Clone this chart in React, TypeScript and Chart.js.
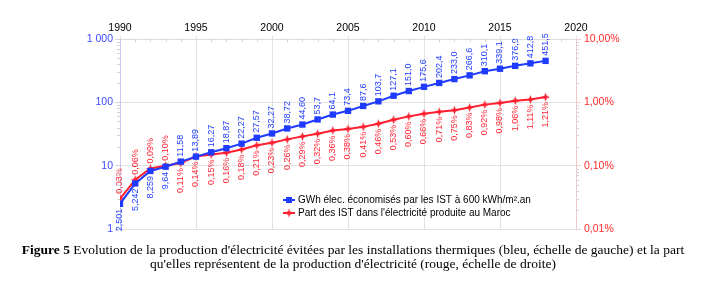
import React, { useEffect, useRef } from "react";
import { Chart, registerables } from "chart.js";

Chart.register(...registerables);

// Years covered by the series
const years = [
  1990, 1991, 1992, 1993, 1994, 1995, 1996, 1997, 1998, 1999,
  2000, 2001, 2002, 2003, 2004, 2005, 2006, 2007, 2008, 2009,
  2010, 2011, 2012, 2013, 2014, 2015, 2016, 2017, 2018,
];

// GWh of electricity saved by solar water heaters (left, log scale)
const gwhSaved = [
  2.501, 5.242, 8.259, 9.64, 11.58, 13.89, 16.27, 18.87, 22.27, 27.57,
  32.27, 38.72, 44.6, 53.7, 64.1, 73.4, 87.6, 103.7, 127.1, 151.0,
  175.6, 202.4, 233.0, 266.6, 310.1, 339.1, 376.9, 412.8, 451.5,
];
// Number of decimals shown in each GWh label
const gwhDecimals = [
  3, 3, 3, 2, 2, 2, 2, 2, 2, 2,
  2, 2, 2, 1, 1, 1, 1, 1, 1, 1,
  1, 1, 1, 1, 1, 1, 1, 1, 1,
];

// Share of national electricity production, in percent (right, log scale)
const sharePct = [
  0.03, 0.06, 0.09, 0.1, 0.11, 0.14, 0.15, 0.16, 0.18, 0.21,
  0.23, 0.26, 0.29, 0.32, 0.36, 0.38, 0.41, 0.46, 0.53, 0.6,
  0.66, 0.71, 0.75, 0.83, 0.92, 0.98, 1.06, 1.11, 1.21,
];

const yearTicks = [1990, 1995, 2000, 2005, 2010, 2015, 2020];
const gwhTicks = [1, 10, 100, 1000];
const pctTicks = [0.01, 0.1, 1, 10];

const seriesNames = [
  "GWh élec. économisés par les IST à 600 kWh/m².an",
  "Part des IST dans l'électricité produite au Maroc",
];

const BLUE = "#1f3bff";
const RED = "#ff1f2f";
const FONT = '"Liberation Sans", Arial, sans-serif';

const fmtGwh = (i: number) => gwhSaved[i].toFixed(gwhDecimals[i]).replace(".", ",");
const fmtPct = (v: number) => v.toFixed(2).replace(".", ",") + "%";

function makeStar(color: string, r: number) {
  const c = document.createElement("canvas");
  const size = Math.ceil(r * 2) + 2;
  c.width = size;
  c.height = size;
  const g = c.getContext("2d")!;
  const cx = size / 2;
  const cy = size / 2;
  const inner = r * 0.38;
  g.beginPath();
  for (let k = 0; k < 8; k++) {
    const a = (Math.PI / 4) * k - Math.PI / 2;
    const rr = k % 2 === 0 ? r : inner;
    const x = cx + rr * Math.cos(a);
    const y = cy + rr * Math.sin(a);
    if (k === 0) g.moveTo(x, y);
    else g.lineTo(x, y);
  }
  g.closePath();
  g.fillStyle = color;
  g.fill();
  return c;
}

// Small minor tick marks on the three axes
const minorTicks = {
  id: "minorTicks",
  afterDraw(chart: any) {
    const { ctx, chartArea } = chart;
    const y = chart.scales.y;
    const x = chart.scales.x;
    ctx.save();
    ctx.strokeStyle = "#d4d4d4";
    ctx.lineWidth = 1;
    ctx.beginPath();
    for (const d of [1, 10, 100]) {
      for (let m = 2; m <= 9; m++) {
        const py = Math.round(y.getPixelForValue(d * m)) + 0.5;
        ctx.moveTo(chartArea.left - 3, py);
        ctx.lineTo(chartArea.left, py);
        ctx.moveTo(chartArea.right, py);
        ctx.lineTo(chartArea.right + 3, py);
      }
    }
    for (let yr = 1991; yr < 2020; yr++) {
      if (yr % 5 === 0) continue;
      const px = Math.round(x.getPixelForValue(yr)) + 0.5;
      ctx.moveTo(px, chartArea.top);
      ctx.lineTo(px, chartArea.top + 3);
    }
    ctx.stroke();
    ctx.restore();
  },
};

// Vertical value labels next to every point
const pointLabels = {
  id: "pointLabels",
  afterDatasetsDraw(chart: any) {
    const ctx = chart.ctx;
    chart.data.datasets.forEach((_ds: any, di: number) => {
      const meta = chart.getDatasetMeta(di);
      meta.data.forEach((pt: any, i: number) => {
        const above = di === 0 ? i >= 4 : i < 4;
        const text = di === 0 ? fmtGwh(i) : fmtPct(sharePct[i]);
        ctx.save();
        ctx.translate(pt.x, pt.y + (above ? -5 : 5));
        ctx.rotate(-Math.PI / 2);
        ctx.textAlign = above ? "left" : "right";
        ctx.textBaseline = "middle";
        ctx.fillStyle = di === 0 ? BLUE : RED;
        ctx.font = "9px " + FONT;
        ctx.fillText(text, 0, 0);
        ctx.restore();
      });
    });
  },
};

// Legend drawn inside the plot, lower right
const innerLegend = {
  id: "innerLegend",
  afterDraw(chart: any) {
    const { ctx, chartArea } = chart;
    const x0 = chartArea.left + 163;
    const y0 = chartArea.bottom - 29;
    ctx.save();
    chart.data.datasets.forEach((ds: any, di: number) => {
      const y = y0 + di * 13;
      ctx.strokeStyle = ds.borderColor;
      ctx.lineWidth = 2;
      ctx.beginPath();
      ctx.moveTo(x0, y);
      ctx.lineTo(x0 + 12, y);
      ctx.stroke();
      if (di === 0) {
        ctx.fillStyle = ds.borderColor;
        ctx.fillRect(x0 + 3, y - 3, 6, 6);
      } else {
        const s = ds.pointStyle as HTMLCanvasElement;
        ctx.drawImage(s, x0 + 6 - s.width / 2, y - s.height / 2);
      }
      ctx.fillStyle = "#000";
      ctx.font = "10px " + FONT;
      ctx.textAlign = "left";
      ctx.textBaseline = "middle";
      ctx.fillText(ds.label, x0 + 15, y + 0.5);
    });
    ctx.restore();
  },
};

export default function App() {
  const canvasRef = useRef<HTMLCanvasElement | null>(null);

  useEffect(() => {
    document.body.style.margin = "0";
    const canvas = canvasRef.current!;
    const star = makeStar(RED, 4.5);
    const chart = new Chart(canvas, {
      type: "line",
      data: {
        labels: years,
        datasets: [
          {
            label: seriesNames[0],
            data: years.map((yr, i) => ({ x: yr, y: gwhSaved[i] })),
            borderColor: BLUE,
            backgroundColor: BLUE,
            borderWidth: 2,
            pointStyle: "rect",
            pointRadius: 4.5,
            pointBorderWidth: 0,
            yAxisID: "y",
          },
          {
            label: seriesNames[1],
            data: years.map((yr, i) => ({ x: yr, y: sharePct[i] })),
            borderColor: RED,
            backgroundColor: RED,
            borderWidth: 2,
            pointStyle: star as any,
            pointRadius: 4.5,
            yAxisID: "y1",
          },
        ],
      },
      options: {
        responsive: false,
        animation: false,
        layout: { padding: { left: 0, right: 0, top: 0, bottom: 63 } },
        plugins: {
          legend: { display: false },
          tooltip: { enabled: false },
        },
        scales: {
          x: {
            type: "linear",
            position: "top",
            min: 1990,
            max: 2020,
            afterBuildTicks: (s: any) => {
              s.ticks = yearTicks.map((v) => ({ value: v }));
            },
            afterFit: (s: any) => {
              s.height = 39;
            },
            ticks: {
              color: "#000",
              font: { family: FONT, size: 10.5 },
              padding: 2,
              maxRotation: 0,
              callback: (v: any) => String(v),
            },
            grid: { color: "#e2e2e2", drawTicks: true, tickLength: 3 },
            border: { color: "#dcdcdc" },
          },
          y: {
            type: "logarithmic",
            position: "left",
            min: 1,
            max: 1000,
            afterBuildTicks: (s: any) => {
              s.ticks = gwhTicks.map((v) => ({ value: v }));
            },
            afterFit: (s: any) => {
              s.width = 120;
            },
            ticks: {
              color: "#3a4bff",
              font: { family: FONT, size: 10.5 },
              padding: 2,
              callback: (v: any) => (v === 1000 ? "1 000" : String(v)),
            },
            grid: { color: "#e2e2e2", tickLength: 5, tickColor: "#d4d4e8" },
            border: { color: "#c9c9ee" },
          },
          y1: {
            type: "logarithmic",
            position: "right",
            min: 0.01,
            max: 10,
            afterBuildTicks: (s: any) => {
              s.ticks = pctTicks.map((v) => ({ value: v }));
            },
            afterFit: (s: any) => {
              s.width = 130;
            },
            ticks: {
              color: "#ff2a2a",
              font: { family: FONT, size: 10.5 },
              padding: 3,
              callback: (v: any) => fmtPct(Number(v)),
            },
            grid: { drawOnChartArea: false, tickLength: 5, tickColor: "#ecd0d0" },
            border: { color: "#eecaca" },
          },
        },
      },
      plugins: [minorTicks, pointLabels, innerLegend],
    });
    return () => chart.destroy();
  }, []);

  const captionStyle: React.CSSProperties = {
    position: "absolute",
    left: 0,
    width: 706,
    textAlign: "center",
    fontFamily: '"Liberation Serif", "Times New Roman", serif',
    fontSize: 13.5,
    lineHeight: "14px",
    color: "#000",
    whiteSpace: "nowrap",
  };

  return (
    <div style={{ position: "relative", width: 706, height: 292, background: "#fff" }}>
      <canvas ref={canvasRef} width={706} height={292} style={{ position: "absolute", left: 0, top: 0 }} />
      <div style={{ ...captionStyle, top: 243 }}>
        <b>Figure 5</b> Evolution de la production d'électricité évitées par les installations thermiques (bleu, échelle de gauche) et la part
      </div>
      <div style={{ ...captionStyle, top: 257 }}>
        qu'elles représentent de la production d'électricité (rouge, échelle de droite)
      </div>
    </div>
  );
}
